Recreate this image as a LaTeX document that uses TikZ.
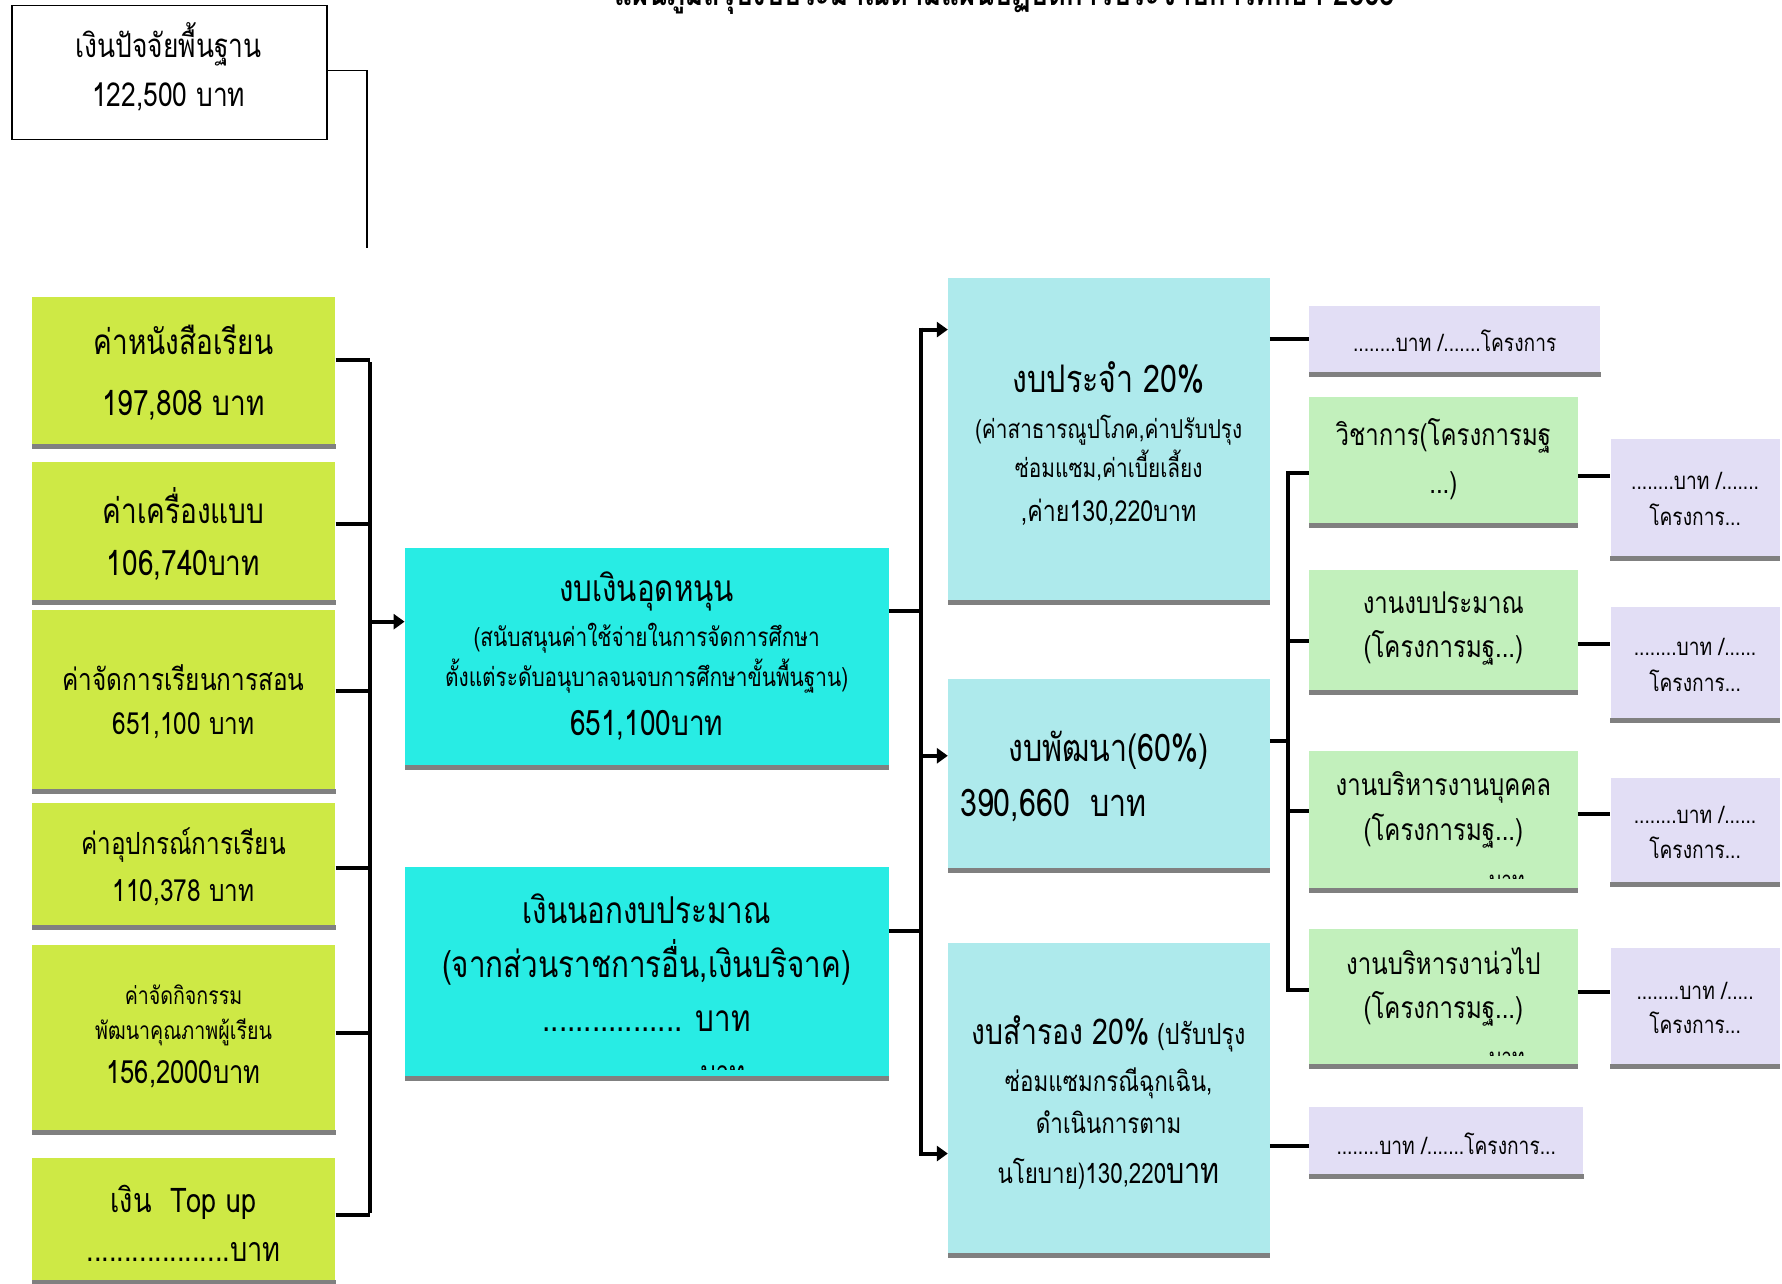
\documentclass[tikz,border=0pt]{standalone}
\usepackage{fontspec}
\setmainfont{Loma}[Script=Thai,FakeStretch=0.8]
\usetikzlibrary{arrows.meta}
\definecolor{cgreen}{RGB}{206,233,69}
\definecolor{ccyan}{RGB}{40,236,228}
\definecolor{clcyan}{RGB}{174,234,236}
\definecolor{clgreen}{RGB}{194,240,188}
\definecolor{clav}{RGB}{226,222,245}
\definecolor{cbar}{RGB}{128,128,128}
\newcommand\fs[2]{\fontsize{#1}{#2}\selectfont}
\begin{document}
\begin{tikzpicture}[x=1.1365pt,y=-1.1365pt,
  sz/.style 2 args={minimum width=#1*1.1365pt, minimum height=#2*1.1365pt},
  boxn/.style={anchor=north west, inner sep=0pt},
  gbox/.style={boxn, fill=cgreen},
  cbox/.style={boxn, fill=ccyan},
  lcbox/.style={boxn, fill=clcyan},
  lgbox/.style={boxn, fill=clgreen},
  pbox/.style={boxn, fill=clav},
  txt/.style={align=center, inner sep=0pt, text=black},
  conn/.style={line width=4pt},
  thinc/.style={line width=1.4pt},
  arr/.style={line width=4pt,-{Triangle[length=11pt,width=15pt]}},
]
\fill[white] (0,0) rectangle (1568,1129);
\clip (0,0) rectangle (1568,1129);

% title
\node[txt, font=\bfseries\fs{34.5}{40}, anchor=base] (title) at (884,5) {แผนภูมิสรุปงบประมาณตามแผนปฏิบัติการประจำปีการศึกษา 2565};

% top box
\node[boxn, draw=black, line width=1.6pt, fill=white, sz={277}{118}] (top) at (10,4) {};
\node[txt, font=\fs{33}{49}] (topt) at (148.5,58.5) {เงินปัจจัยพื้นฐาน\\122,500 บาท};
\coordinate (topend) at (323,218);
\draw[thinc] (top.east |- 0,62) -| (topend);

% left green boxes
\node[gbox, sz={267}{134}] (b1) at (28,261) {};
\node[txt, font=\fs{35}{61}] (b1t) at (161.5,328) {ค่าหนังสือเรียน\\197,808 บาท};
\node[gbox, sz={267}{126}] (b2) at (28,406) {};
\node[txt, font=\fs{35}{52}] (b2t) at (161.5,470) {ค่าเครื่องแบบ\\106,740บาท};
\node[gbox, sz={267}{161}] (b3) at (28,537) {};
\node[txt, font=\fs{30.5}{44}] (b3t) at (161.5,617.5) {ค่าจัดการเรียนการสอน\\651,100 บาท};
\node[gbox, sz={267}{112}] (b4) at (28,706) {};
\node[txt, font=\fs{30.5}{47}] (b4t) at (161.5,762.5) {ค่าอุปกรณ์การเรียน\\110,378 บาท};
\node[gbox, sz={267}{167}] (b5) at (28,831) {};
\node[txt, font=\fs{24.5}{35}] (b5t) at (161.5,912) {ค่าจัดกิจกรรม\\พัฒนาคุณภาพผู้เรียน\\[9pt]{\fs{32}{44}156,2000บาท}};
\node[gbox, sz={267}{111}] (b6) at (28,1019) {};
\node[txt, font=\fs{34}{49}] (b6t) at (161.5,1076.5) {เงิน\ \ Top up\\...................บาท};

% middle boxes
\node[cbox, sz={426}{195}] (A) at (356,482) {};
\node[txt, font=\fs{26}{40}] (At) at (569,577) {{\fs{37}{40}งบเงินอุดหนุน}\\[5pt](สนับสนุนค่าใช้จ่ายในการจัดการศึกษา\\ตั้งแต่ระดับอนุบาลจนจบการศึกษาขั้นพื้นฐาน)\\[9pt]{\fs{35}{40}651,100บาท}};
\node[cbox, sz={426}{188}] (B) at (356,763) {};
\node[txt, font=\fs{37}{54}] (Bt) at (569,847) {เงินนอกงบประมาณ\\(จากส่วนราชการอื่น,เงินบริจาค)\\................. บาท};

% right-middle boxes
\node[lcbox, sz={283}{288}] (R1) at (834,244) {};
\node[txt, font=\fs{26}{39}] (R1t) at (975.5,390) {{\fs{38}{39}งบประจำ 20\%}\\[7pt](ค่าสาธารณูปโภค,ค่าปรับปรุง\\ซ่อมแซม,ค่าเบี้ยเลี้ยง\\[5pt]{\fs{29}{39},ค่าย130,220บาท}};
\node[lcbox, sz={283}{171}] (R2) at (834,597) {};
\node[txt, font=\fs{38}{55}] (R2t) at (975.5,683) {งบพัฒนา(60\%)\\\makebox[297pt][l]{390,660\ \ บาท}};
\node[lcbox, sz={283}{277}] (R3) at (834,830) {};
\node[txt, font=\fs{28}{42}] (R3t) at (975.5,970) {{\fs{35.5}{42}งบสำรอง 20\%} {\fs{29}{42}(ปรับปรุง}\\[5pt]ซ่อมแซมกรณีฉุกเฉิน,\\ดำเนินการตาม\\[8pt]นโยบาย)130,220{\fs{36}{42}บาท}};

% light green boxes
\node[lgbox, sz={236}{115}] (G1) at (1152,349) {};
\node[txt, font=\fs{30}{48}] (G1t) at (1270,404) {วิชาการ(โครงการมฐ\\...)};
\node[lgbox, sz={236}{110}] (G2) at (1152,501) {};
\node[txt, font=\fs{30}{44}] (G2t) at (1270,553.5) {งานงบประมาณ\\(โครงการมฐ...)};
\node[lgbox, sz={236}{124}] (G3) at (1152,661) {};
\node[txt, font=\fs{30}{45}] (G3t) at (1270,713) {งานบริหารงานบุคคล\\(โครงการมฐ...)};
\node[lgbox, sz={236}{123}] (G4) at (1152,817) {};
\node[txt, font=\fs{30}{44}] (G4t) at (1270,868.5) {งานบริหารงาน่วไป\\(โครงการมฐ...)};

% lavender boxes
\node[pbox, sz={256}{62}] (P1) at (1152,269) {};
\node[txt, font=\fs{24}{36}] (P1t) at (1280,300) {........บาท /.......โครงการ};
\node[pbox, sz={149}{107}] (P2) at (1417,386) {};
\node[txt, font=\fs{24}{36}] (P2t) at (1491.5,439) {........บาท /.......\\โครงการ...};
\node[pbox, sz={149}{102}] (P3) at (1417,534) {};
\node[txt, font=\fs{24}{36}] (P3t) at (1491.5,585) {........บาท /......\\โครงการ...};
\node[pbox, sz={149}{96}] (P4) at (1417,684) {};
\node[txt, font=\fs{24}{35}] (P4t) at (1491.5,732.5) {........บาท /......\\โครงการ...};
\node[pbox, sz={149}{106}] (P6) at (1417,834) {};
\node[txt, font=\fs{24}{34}] (P6t) at (1491.5,887) {........บาท /.....\\โครงการ...};
\node[pbox, sz={241}{63}] (P5) at (1152,974) {};
\node[txt, font=\fs{24}{36}] (P5t) at (1272.5,1006) {........บาท /.......โครงการ...};

% clipped overflow texts
\begin{scope}
\clip (590,930) rectangle (700,941);
\node[txt, font=\fs{30}{36}] (Bc) at (636,945) {บาท};
\end{scope}
\begin{scope}
\clip (1290,764) rectangle (1370,773);
\node[txt, font=\fs{24}{30}] (G3c) at (1326,776) {บาท};
\end{scope}
\begin{scope}
\clip (1290,920) rectangle (1370,929);
\node[txt, font=\fs{24}{30}] (G4c) at (1326,932) {บาท};
\end{scope}

% gray bars
\foreach \n in {b1,b2,b3,b4,b5,b6,A,B,R1,R2,R3,G1,G2,G3,G4,P1,P2,P3,P4,P5,P6}
  \fill[cbar] (\n.south west) rectangle ([yshift=5pt]\n.south east);

% bus 1
\coordinate (bus1a) at (326,317);
\coordinate (bus1b) at (326,1069);
\draw[conn] ([yshift=-2pt]bus1a) -- ([yshift=2pt]bus1b);
\foreach \n/\y in {b1/317,b2/461,b3/608,b4/764,b5/909,b6/1069}
  \draw[conn] (\n.east |- 0,\y) -- (bus1a |- 0,\y);
\draw[arr] (bus1a |- 0,547) -- (A.west |- 0,547);

% bus 2
\coordinate (bus2a) at (810,290);
\coordinate (bus2b) at (810,1015);
\draw[conn] ([yshift=2pt]bus2a) -- ([yshift=-2pt]bus2b);
\draw[conn] (A.east |- 0,538) -- (bus2a |- 0,538);
\draw[conn] (B.east |- 0,819) -- (bus2a |- 0,819);
\draw[arr] (bus2a) -- (R1.west |- bus2a);
\draw[arr] (bus2a |- 0,665) -- (R2.west |- 0,665);
\draw[arr] (bus2b) -- (R3.west |- bus2b);

% bus 3
\coordinate (bus3a) at (1133,416);
\coordinate (bus3b) at (1133,871);
\draw[conn] ([yshift=2pt]bus3a) -- ([yshift=-2pt]bus3b);
\draw[conn] (R2.east |- 0,652) -- (bus3a |- 0,652);
\foreach \n/\y in {G1/416,G2/564,G3/714,G4/871}
  \draw[conn] (bus3a |- 0,\y) -- (\n.west |- 0,\y);

% to lavender boxes
\draw[conn] (R1.east |- 0,298) -- (P1.west |- 0,298);
\draw[conn] (R3.east |- 0,1008) -- (P5.west |- 0,1008);
\draw[conn] (G1.east |- 0,419) -- (P2.west |- 0,419);
\draw[conn] (G2.east |- 0,567) -- (P3.west |- 0,567);
\draw[conn] (G3.east |- 0,716) -- (P4.west |- 0,716);
\draw[conn] (G4.east |- 0,873) -- (P6.west |- 0,873);
\end{tikzpicture}
\end{document}
